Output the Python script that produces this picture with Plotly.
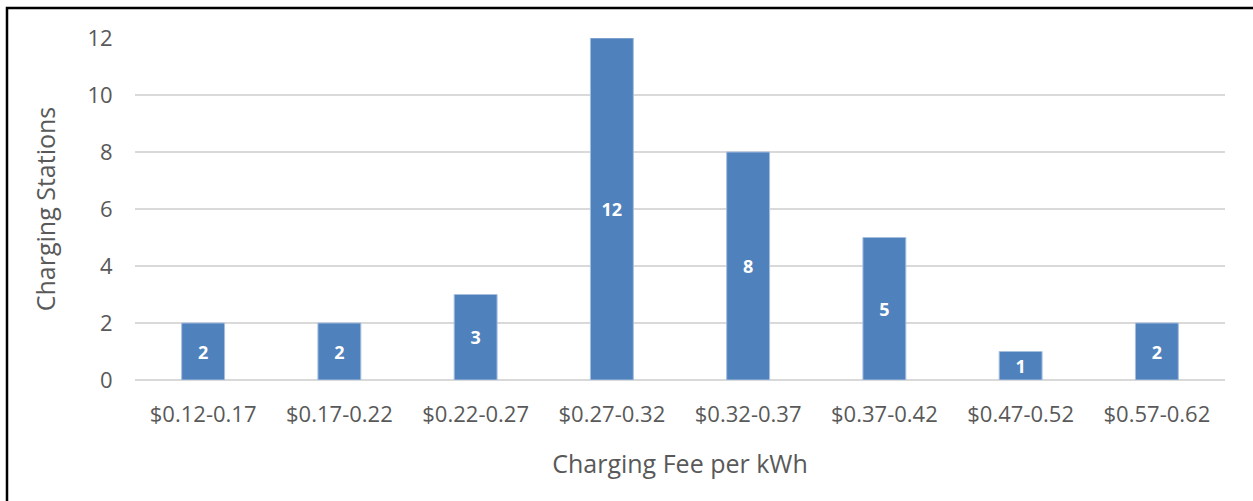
import plotly.graph_objects as go

categories = ["$0.12-0.17", "$0.17-0.22", "$0.22-0.27", "$0.27-0.32",
              "$0.32-0.37", "$0.37-0.42", "$0.47-0.52", "$0.57-0.62"]
stations = [2, 2, 3, 12, 8, 5, 1, 2]
y_ticks = [0, 2, 4, 6, 8, 10, 12]

W, H = 1253, 501
L, R, T, B = 135, 28, 38, 121
pw, ph = W - L - R, H - T - B

font_family = "Open Sans, Liberation Sans, sans-serif"
grey = "#595959"

fig = go.Figure(go.Bar(
    x=categories, y=stations,
    marker=dict(color="#4F81BD", line=dict(color="#A7BFDE", width=1)),
    text=[str(v) for v in stations],
    textposition="inside", insidetextanchor="middle",
    textangle=0, constraintext="none",
    textfont=dict(color="white", size=18, family=font_family, weight="bold"),
    width=0.315,
))

def px_x(p):
    return (p - L) / pw

def px_y(p):
    return (H - B - p) / ph

fig.update_layout(
    width=W, height=H,
    margin=dict(l=L, r=R, t=T, b=B),
    plot_bgcolor="white", paper_bgcolor="white",
    showlegend=False,
    font=dict(family=font_family, color=grey, size=22),
    xaxis=dict(
        title=dict(text="Charging Fee per kWh", font=dict(size=25, color=grey), standoff=28),
        tickfont=dict(size=22, color=grey),
        ticks="outside", ticklen=15, tickcolor="rgba(0,0,0,0)",
        showgrid=False, showline=False, zeroline=False,
    ),
    yaxis=dict(
        title=dict(text="Charging Stations", font=dict(size=25, color=grey), standoff=24),
        range=[0, 12], tickvals=y_ticks,
        tickfont=dict(size=22, color=grey),
        ticks="outside", ticklen=17, tickcolor="rgba(0,0,0,0)",
        showgrid=True, gridcolor="#D9D9D9", gridwidth=2,
        zeroline=True, zerolinecolor="#D9D9D9", zerolinewidth=2,
        showline=False,
    ),
    shapes=[dict(
        type="rect", xref="paper", yref="paper",
        x0=px_x(7), x1=px_x(1262), y0=px_y(520), y1=px_y(8),
        line=dict(color="black", width=2.5), fillcolor="rgba(0,0,0,0)",
        layer="above",
    )],
)

fig.write_html("out.html", config={"displayModeBar": False},
               post_script="document.body.style.margin='0';")
